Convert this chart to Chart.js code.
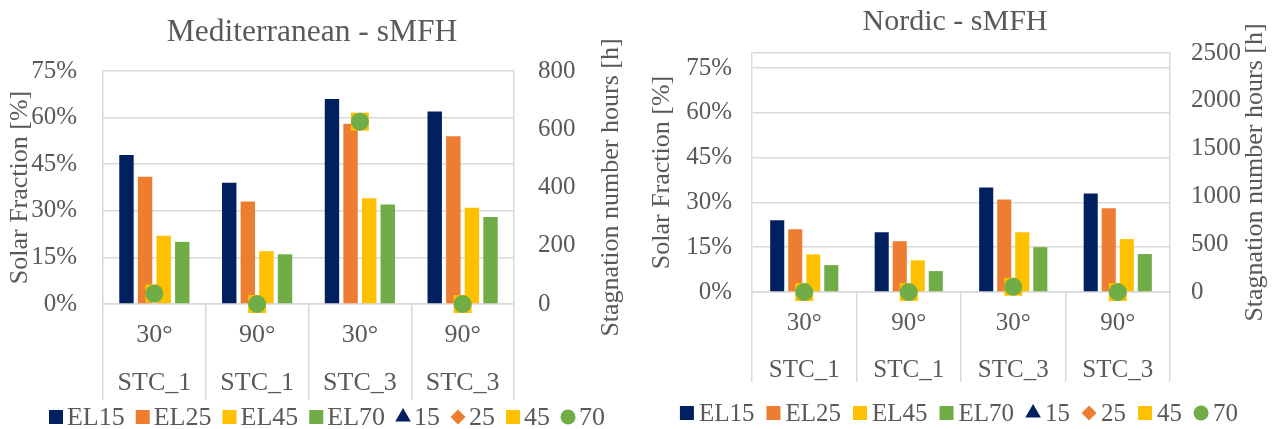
<!DOCTYPE html>
<html>
<head>
<meta charset="utf-8">
<title>Solar fraction and stagnation hours - sMFH</title>
<script src="https://cdn.jsdelivr.net/npm/chart.js@4"></script>
<style>
  body { margin: 0; background: #fff; }
  .row { display: flex; width: 1278px; height: 429px; }
  canvas { display: block; }
</style>
</head>
<body>
<div class="row">
  <canvas id="med" width="640" height="429"></canvas>
  <canvas id="nor" width="638" height="429"></canvas>
</div>
<script>
// categories (two level axis)
const angles = ["30°", "90°", "30°", "90°"];
const collectors = ["STC_1", "STC_1", "STC_3", "STC_3"];
const sfTicks = [0, 15, 30, 45, 60, 75];

// Mediterranean - solar fraction [%]
const medEL15 = [48, 39, 66, 62];
const medEL25 = [41, 33, 58, 54];
const medEL45 = [22, 17, 34, 31];
const medEL70 = [20, 16, 32, 28];
// Mediterranean - stagnation hours [h]
const medStag15 = [36, 0, 626, 0];
const medStag25 = [36, 0, 626, 0];
const medStag45 = [36, 0, 626, 0];
const medStag70 = [36, 0, 626, 0];
const medHoursTicks = [0, 200, 400, 600, 800];

// Nordic - solar fraction [%]
const norEL15 = [24, 20, 35, 33];
const norEL25 = [21, 17, 31, 28];
const norEL45 = [12.6, 10.6, 20, 17.7];
const norEL70 = [9, 7, 15, 12.7];
// Nordic - stagnation hours [h]
const norStag15 = [0, 0, 55, 0];
const norStag25 = [0, 0, 55, 0];
const norStag45 = [0, 0, 55, 0];
const norStag70 = [0, 0, 55, 0];
const norHoursTicks = [0, 500, 1000, 1500, 2000, 2500];

const barNames = ["EL15", "EL25", "EL45", "EL70"];
const markerNames = ["15", "25", "45", "70"];
const colours = ["#002060", "#ED7D31", "#FFC000", "#70AD47"];
const markerStyles = ["triangle", "rectRot", "rect", "circle"];
const markerRadius = [9, 9, 12.7, 9];
const legendRadius = [9, 7.5, 9.9, 7.5];

const textCol = "#595959";
const gridCol = "#d9d9d9";
const serif = "'Liberation Serif', 'Times New Roman', serif";
Chart.defaults.font.family = serif;
Chart.defaults.color = textCol;

// Excel style right axis title (reads bottom to top)
const rightTitle = {
  id: "rightTitle",
  afterDraw(chart, args, opts) {
    const s = chart.scales.y1;
    const ctx = chart.ctx;
    ctx.save();
    ctx.translate(s.right - opts.offset, (s.top + s.bottom) / 2);
    ctx.rotate(-Math.PI / 2);
    ctx.font = opts.size + "px " + serif;
    ctx.fillStyle = textCol;
    ctx.textAlign = "center";
    ctx.textBaseline = "middle";
    ctx.fillText(opts.text, 0, 0);
    ctx.restore();
  }
};

// compact Excel-like legend: small marker, short gap, then text
const excelLegend = {
  id: "excelLegend",
  afterDraw(chart, args, o) {
    const ctx = chart.ctx;
    const sets = chart.data.datasets;
    ctx.save();
    ctx.font = o.size + "px " + serif;
    ctx.textBaseline = "middle";
    ctx.textAlign = "left";
    const widths = sets.map(ds => o.box + o.gap + ctx.measureText(ds.label).width);
    const total = widths.reduce((a, b) => a + b, 0) + o.spacing * (sets.length - 1);
    let x = o.center - total / 2;
    sets.forEach((ds, i) => {
      ctx.fillStyle = ds.backgroundColor;
      Chart.helpers.drawPoint(ctx, {
        pointStyle: ds.legendStyle, radius: ds.legendRadius, rotation: 0, borderWidth: 0
      }, x + o.box / 2, o.y);
      ctx.fillStyle = textCol;
      ctx.fillText(ds.label, x + o.box + o.gap, o.y + 1);
      x += widths[i] + o.spacing;
    });
    ctx.restore();
  }
};

function buildChart(id, o) {
  const bars = o.sf.map((d, i) => ({
    type: "bar",
    label: barNames[i],
    data: d,
    backgroundColor: colours[i],
    legendStyle: "rect",
    legendRadius: 9.9,
    yAxisID: "y",
    order: 5,
    categoryPercentage: o.catPct,
    barPercentage: o.barPct
  }));
  const markers = o.stag.map((d, i) => ({
    type: "line",
    label: markerNames[i],
    data: d,
    yAxisID: "y1",
    showLine: false,
    pointStyle: markerStyles[i],
    pointRadius: markerRadius[i],
    pointHoverRadius: markerRadius[i],
    legendStyle: markerStyles[i],
    legendRadius: legendRadius[i],
    backgroundColor: colours[i],
    borderColor: colours[i],
    borderWidth: 0,
    pointBorderWidth: 0,
    clip: false,
    order: 4 - i
  }));

  return new Chart(document.getElementById(id), {
    type: "bar",
    data: {
      labels: angles.map((a, i) => [a, collectors[i]]),
      datasets: bars.concat(markers)
    },
    plugins: [rightTitle, excelLegend],
    options: {
      responsive: false,
      animation: false,
      layout: { padding: { bottom: o.padBottom, right: o.padRight } },
      scales: {
        x: {
          offset: true,
          grid: { offset: true, drawOnChartArea: false, color: gridCol, lineWidth: 1.5, tickLength: o.xTick },
          border: { color: gridCol, width: 1.5 },
          ticks: {
            autoSkip: false, maxRotation: 0, padding: o.xPad,
            font: { size: o.catSize, lineHeight: o.catLine }
          },
          afterFit: s => { s.height = o.xTick; }
        },
        y: {
          position: "left",
          min: 0,
          max: o.sfMax,
          afterBuildTicks: s => { s.ticks = sfTicks.concat(o.sfMax > 75 ? [o.sfMax] : []).map(v => ({ value: v })); },
          ticks: {
            padding: o.yTickPad,
            font: { size: 25 },
            callback: v => sfTicks.includes(v) ? v + "%" : ""
          },
          grid: { color: gridCol, lineWidth: 1.5, drawTicks: false },
          border: { color: gridCol, width: 1.5 },
          title: {
            display: true, text: "Solar Fraction [%]",
            font: { size: 26 }, padding: { top: o.yTitlePad, bottom: 0 }
          },
          afterFit: s => { s.width = o.yWidth; }
        },
        y1: {
          position: "right",
          min: 0,
          max: o.hoursTicks[o.hoursTicks.length - 1],
          afterBuildTicks: s => { s.ticks = o.hoursTicks.map(v => ({ value: v })); },
          ticks: { padding: o.y1TickPad, font: { size: 25 }, callback: v => String(v) },
          grid: { drawOnChartArea: false, drawTicks: false },
          border: { color: gridCol, width: 1.5 },
          afterFit: s => { s.width = o.y1Width; }
        }
      },
      plugins: {
        title: {
          display: true,
          text: o.title,
          color: textCol,
          font: { size: o.titleSize, weight: "normal", lineHeight: 1.2 },
          padding: o.titlePad
        },
        legend: { display: false },
        tooltip: { enabled: false },
        rightTitle: { text: "Stagnation number hours [h]", size: 26, offset: o.rightTitleOffset },
        excelLegend: o.legend
      }
    }
  });
}

buildChart("med", {
  title: "Mediterranean - sMFH",
  titleSize: 31.5,
  titlePad: { top: 14.1, bottom: 19.1 },
  sf: [medEL15, medEL25, medEL45, medEL70],
  stag: [medStag15, medStag25, medStag45, medStag70],
  sfMax: 75,
  hoursTicks: medHoursTicks,
  catPct: 0.724, barPct: 0.775,
  padRight: 16,
  yWidth: 103, y1Width: 110,
  yTickPad: 26, y1TickPad: 24,
  yTitlePad: 4.4, rightTitleOffset: 13,
  xTick: 96, xPad: -89, catSize: 26, catLine: 48 / 26,
  padBottom: 29,
  legend: { size: 26, box: 14, gap: 4, spacing: 11, center: 327, y: 417 }
});

buildChart("nor", {
  title: "Nordic - sMFH",
  titleSize: 30,
  titlePad: { top: 4, bottom: 13 },
  sf: [norEL15, norEL25, norEL45, norEL70],
  stag: [norStag15, norStag25, norStag45, norStag70],
  sfMax: 80,
  hoursTicks: norHoursTicks,
  catPct: 0.69, barPct: 0.78,
  padRight: 8,
  yWidth: 112, y1Width: 100,
  yTickPad: 20, y1TickPad: 21,
  yTitlePad: 6.4, rightTitleOffset: 15,
  xTick: 90, xPad: -82.5, catSize: 25, catLine: 47 / 25,
  padBottom: 47,
  legend: { size: 25, box: 14, gap: 5, spacing: 12, center: 319, y: 413 }
});
</script>
</body>
</html>
